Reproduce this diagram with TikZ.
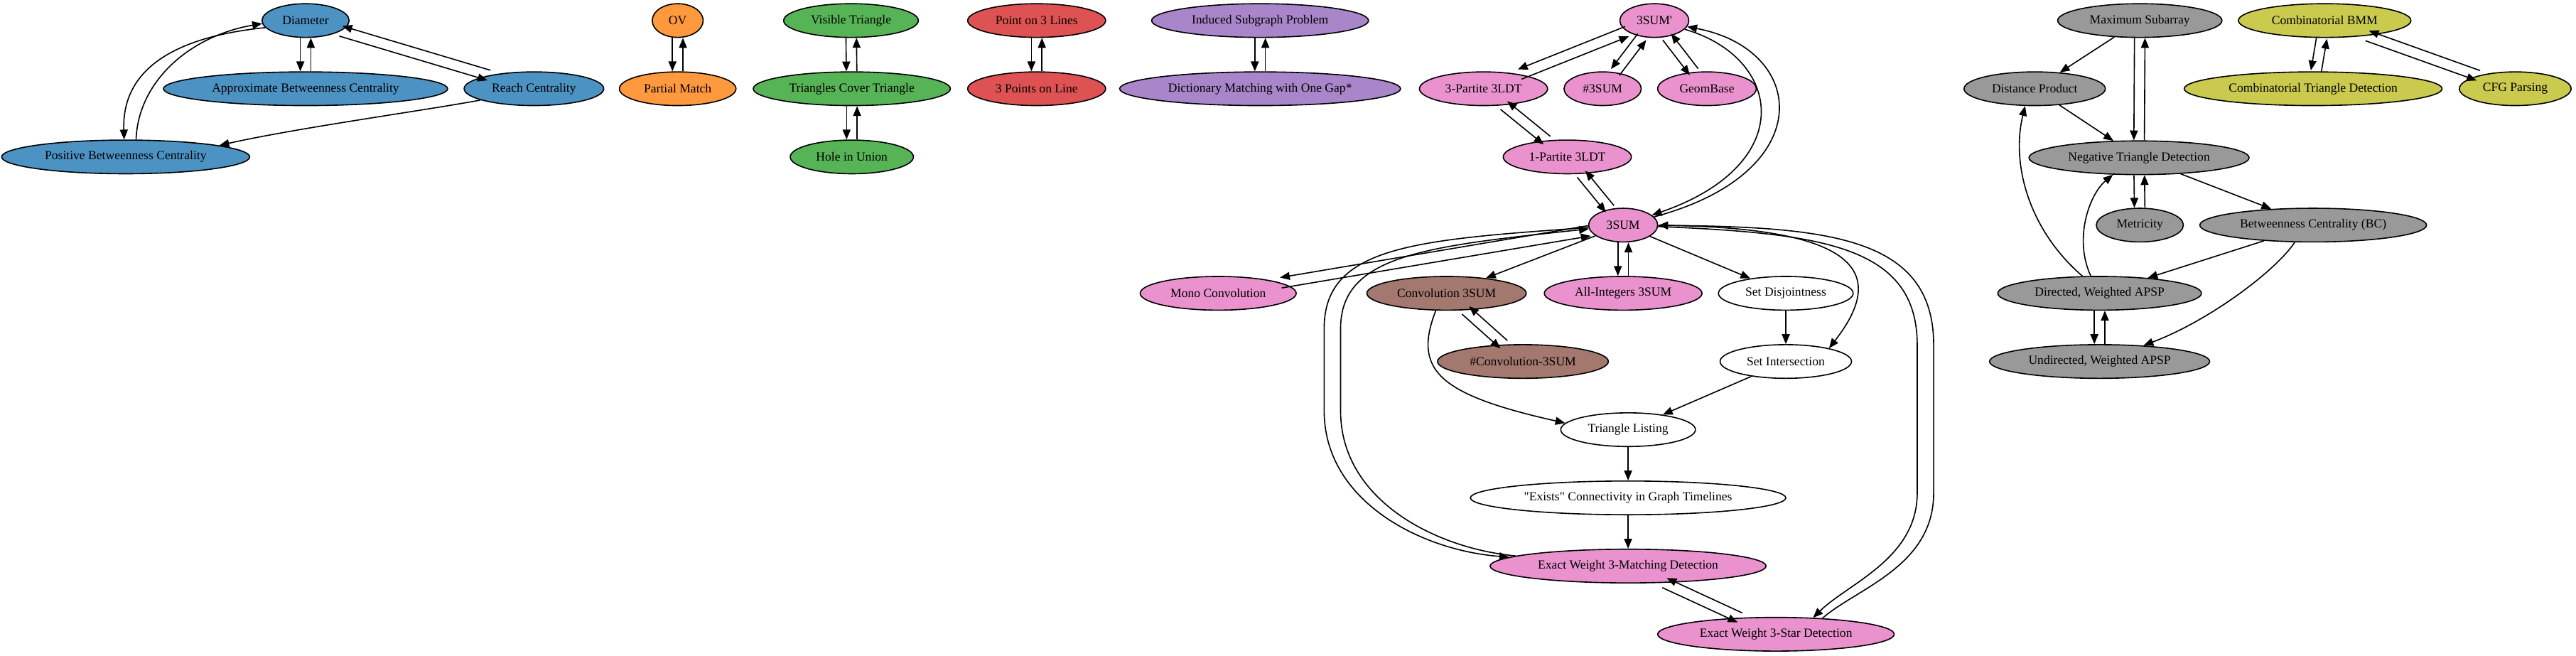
\documentclass[tikz,border=0pt]{standalone}
\usepackage{fontspec}
\setmainfont{Liberation Serif}
\usetikzlibrary{shapes.geometric}
\usetikzlibrary{arrows.meta}
\definecolor{pblue}{RGB}{76,146,195}
\definecolor{porange}{RGB}{255,153,62}
\definecolor{pgreen}{RGB}{86,179,86}
\definecolor{pred}{RGB}{222,82,83}
\definecolor{ppurple}{RGB}{169,133,202}
\definecolor{pbrown}{RGB}{163,120,111}
\definecolor{ppink}{RGB}{233,146,206}
\definecolor{pgray}{RGB}{153,153,153}
\definecolor{polive}{RGB}{201,202,78}
\newcommand{\twoway}[2]{%
  \pgfmathanglebetweenpoints{\pgfpointanchor{#1}{center}}{\pgfpointanchor{#2}{center}}%
  \let\pairang\pgfmathresult
  \pgfmathsetmacro{\pairx}{3.2*cos(\pairang-90)}%
  \pgfmathsetmacro{\pairy}{3.2*sin(\pairang-90)}%
  \pgfmathsetmacro{\pairnx}{-\pairx}%
  \pgfmathsetmacro{\pairny}{-\pairy}%
  \draw[->, transform canvas={shift={(\pairx pt,\pairy pt)}}] (#1) -- (#2);
  \draw[->, transform canvas={shift={(\pairnx pt,\pairny pt)}}] (#2) -- (#1);
}

\begin{document}
\begin{tikzpicture}[
    prob/.style={ellipse, draw, inner sep=0pt, minimum height=20.5pt, font=\fontsize{7.6}{9}\selectfont},
    >={Triangle[length=6pt,width=4.8pt]},
    line width=0.7pt,
    x=1pt, y=-1pt
]
    \useasboundingbox (0,0) rectangle (1568,399);

    \node[prob, fill=pblue, minimum width=53] (dia) at (186,12.5) {Diameter};
    \node[prob, fill=pblue, minimum width=173] (abc) at (186,54) {Approximate Betweenness Centrality};
    \node[prob, fill=pblue, minimum width=85] (rc) at (325,54) {Reach Centrality};
    \node[prob, fill=pblue, minimum width=151] (pbc) at (76.5,95.5) {Positive Betweenness Centrality};

    \node[prob, fill=porange, minimum width=31] (ov) at (412.5,12.5) {OV};
    \node[prob, fill=porange, minimum width=71] (pm) at (412.5,54) {Partial Match};

    \node[prob, fill=pgreen, minimum width=82] (vt) at (518,12.5) {Visible Triangle};
    \node[prob, fill=pgreen, minimum width=120] (tct) at (518.5,54) {Triangles Cover Triangle};
    \node[prob, fill=pgreen, minimum width=75] (hiu) at (518.5,95.5) {Hole in Union};

    \node[prob, fill=pred, minimum width=84] (p3l) at (631,12.5) {Point on 3 Lines};
    \node[prob, fill=pred, minimum width=84] (pol) at (631,54) {3 Points on Line};

    \node[prob, fill=ppurple, minimum width=132] (isp) at (767,12.5) {Induced Subgraph Problem};
    \node[prob, fill=ppurple, minimum width=171] (dmg) at (767,54) {Dictionary Matching with One Gap*};

    \node[prob, fill=ppink, minimum width=42] (tsp) at (1007,12.5) {3SUM\textquotesingle};
    \node[prob, fill=ppink, minimum width=78] (tpl) at (903,54) {3-Partite 3LDT};
    \node[prob, fill=ppink, minimum width=47] (ssum) at (975.5,54) {\#3SUM};
    \node[prob, fill=ppink, minimum width=60] (gb) at (1039,54) {GeomBase};
    \node[prob, fill=ppink, minimum width=78] (opl) at (954,95.5) {1-Partite 3LDT};
    \node[prob, fill=ppink, minimum width=42] (ts) at (988,137) {3SUM};
    \node[prob, fill=ppink, minimum width=95] (mc) at (741.5,178.5) {Mono Convolution};
    \node[prob, fill=pbrown, minimum width=97] (conv) at (880.5,178.5) {Convolution 3SUM};
    \node[prob, fill=ppink, minimum width=96] (ai) at (988,178.5) {All-Integers 3SUM};
    \node[prob, fill=white, minimum width=82] (sd) at (1087,178.5) {Set Disjointness};
    \node[prob, fill=pbrown, minimum width=104] (cconv) at (927,220) {\#Convolution-3SUM};
    \node[prob, fill=white, minimum width=80] (si) at (1087,220) {Set Intersection};
    \node[prob, fill=white, minimum width=82] (tl) at (991,261.5) {Triangle Listing};
    \node[prob, fill=white, minimum width=192] (ex) at (991,303) {\textquotedbl Exists\textquotedbl{} Connectivity in Graph Timelines};
    \node[prob, fill=ppink, minimum width=168] (ewm) at (991,344.5) {Exact Weight 3-Matching Detection};
    \node[prob, fill=ppink, minimum width=144] (ews) at (1081,386) {Exact Weight 3-Star Detection};

    \node[prob, fill=pgray, minimum width=100] (ms) at (1302.5,12.5) {Maximum Subarray};
    \node[prob, fill=pgray, minimum width=86] (dp) at (1238.5,54) {Distance Product};
    \node[prob, fill=pgray, minimum width=134] (ntd) at (1302,96) {Negative Triangle Detection};
    \node[prob, fill=pgray, minimum width=53] (met) at (1302.5,137) {Metricity};
    \node[prob, fill=pgray, minimum width=138] (bc) at (1408,137) {Betweenness Centrality (BC)};
    \node[prob, fill=pgray, minimum width=124] (dapsp) at (1278,178.5) {Directed, Weighted APSP};
    \node[prob, fill=pgray, minimum width=134] (uapsp) at (1278,220) {Undirected, Weighted APSP};

    \node[prob, fill=polive, minimum width=105] (cbmm) at (1415,12.5) {Combinatorial BMM};
    \node[prob, fill=polive, minimum width=157] (ctd) at (1408,54) {Combinatorial Triangle Detection};
    \node[prob, fill=polive, minimum width=68] (cfg) at (1531,54) {CFG Parsing};

    \twoway{dia}{abc}
    \twoway{dia}{rc}
    \draw[->] (dia.190) .. controls (110,22) and (74,40) .. (pbc.95);
    \draw[->] (pbc.59) .. controls (84,50) and (115,22) .. (dia.184);
    \draw[->] (rc.192) .. controls (260,67) and (180,78) .. (pbc.7);

    \twoway{ov}{pm}
    \twoway{vt}{tct}
    \twoway{tct}{hiu}
    \twoway{p3l}{pol}
    \twoway{isp}{dmg}

    \twoway{tsp}{tpl}
    \twoway{tsp}{ssum}
    \twoway{tsp}{gb}
    \twoway{tpl}{opl}
    \twoway{opl}{ts}
    \draw[->] (tsp) .. controls (1085,35) and (1095,100) .. (ts);
    \draw[->] (ts) .. controls (1108,105) and (1100,30) .. (tsp);
    \twoway{ts}{mc}
    \twoway{ts}{ai}
    \draw[->] (ts) -- (conv);
    \draw[->] (ts) -- (sd);
    \draw[->] (ts) .. controls (1130,138) and (1150,165) .. (si.17);
    \twoway{conv}{cconv}
    \draw[->] (conv.238) .. controls (860,225) and (875,240) .. (tl.174);
    \draw[->] (sd) -- (si);
    \draw[->] (si) -- (tl);
    \draw[->] (tl) -- (ex);
    \draw[->] (ex) -- (ewm);
    \draw[->] (ts) .. controls (860,146) and (806,150) .. (806,200) -- (806,250) .. controls (806,305) and (865,335) .. (ewm);
    \draw[->] (ewm) .. controls (875,334) and (816,305) .. (816,250) -- (816,200) .. controls (816,155) and (868,150) .. (ts);
    \draw[->] (ts) .. controls (1110,142) and (1167,150) .. (1167,210) -- (1167,300) .. controls (1167,340) and (1125,355) .. (ews.24);
    \draw[->] (ews.19) .. controls (1130,358) and (1177,345) .. (1177,300) -- (1177,210) .. controls (1177,145) and (1115,138) .. (ts);
    \twoway{ewm}{ews}

    \draw[->] (ms) -- (dp);
    \twoway{ms}{ntd}
    \draw[->] (dp) -- (ntd);
    \twoway{ntd}{met}
    \draw[->] (ntd) -- (bc);
    \draw[->] (dapsp.135) .. controls (1235,140) and (1224,100) .. (dp.241);
    \draw[->] (dapsp.117) .. controls (1262,145) and (1272,118) .. (ntd.213);
    \draw[->] (bc) -- (dapsp);
    \draw[->] (bc.223) .. controls (1385,165) and (1345,195) .. (uapsp.20);
    \twoway{dapsp}{uapsp}

    \twoway{cbmm}{ctd}
    \twoway{cbmm}{cfg}
\end{tikzpicture}
\end{document}
